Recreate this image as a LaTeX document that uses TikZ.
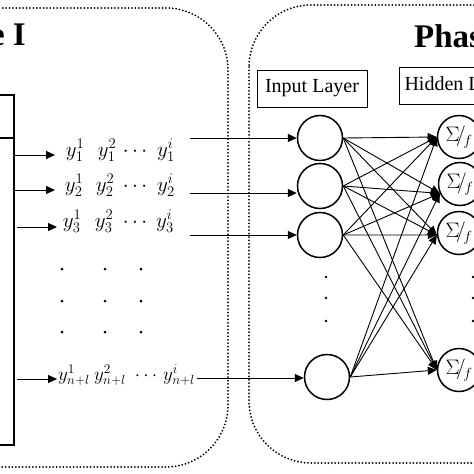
\documentclass[tikz,border=0pt]{standalone}
\usepackage{fontspec}
\usepackage{fix-cm}
\setmainfont{Liberation Serif}
\usetikzlibrary{arrows.meta}
\begin{document}
\begin{tikzpicture}[x=1pt,y=-1pt,
  dotbox/.style={line width=2pt, dash pattern=on 0pt off 3.4pt, line cap=round},
  neuron/.style={circle, draw, line width=1.5pt, minimum size=45pt, inner sep=0pt},
  hneuron/.style={circle, draw, line width=1.5pt, minimum size=43pt, inner sep=0pt, font=\fontsize{21}{24}\selectfont},
  arr/.style={line width=0.9pt, -{Triangle[length=9pt,width=8pt]}},
  lbl/.style={inner sep=0pt, anchor=base, font=\fontsize{21}{24}\selectfont},
  lblsmall/.style={inner sep=0pt, anchor=base, font=\fontsize{19}{22}\selectfont},
  layerbox/.style={draw, line width=1pt, minimum height=37pt, inner sep=5pt, font=\fontsize{20}{24}\selectfont},
  titletext/.style={inner sep=0pt, font=\fontsize{33}{38}\selectfont\bfseries}
]
\clip (0,0) rectangle (474,474);
\fill[white] (0,0) rectangle (474,474);

% phase boxes
\draw[dotbox, rounded corners=62pt] (-100,8) rectangle (228,467);
\draw[dotbox, rounded corners=62pt] (249,5) rectangle (600,463);

% titles
\node[titletext, anchor=base east] (t1) at (26,45) {Phase I};
\node[titletext, anchor=base west] (t2) at (414,47) {Phase II};

% source block
\node[draw, line width=1.5pt, minimum width=60pt, minimum height=350pt, inner sep=0pt] (src) at (-16,270) {};
\draw[line width=1.5pt] (src.west |- 0,138) -- (src.east |- 0,138);

% rows of outputs
\node[lbl] (r1a) at (75,156) {$y_1^1$};
\node[lbl] (r1b) at (107,156) {$y_1^2$};
\node[lbl] (r1c) at (135,156) {$\cdots$};
\node[lbl] (r1d) at (166,156) {$y_1^i$};
\node[lbl] (r2a) at (74,191) {$y_2^1$};
\node[lbl] (r2b) at (105,191) {$y_2^2$};
\node[lbl] (r2c) at (135,191) {$\cdots$};
\node[lbl] (r2d) at (166,191) {$y_2^i$};
\node[lbl] (r3a) at (72,227) {$y_3^1$};
\node[lbl] (r3b) at (104,227) {$y_3^2$};
\node[lbl] (r3c) at (135,227) {$\cdots$};
\node[lbl] (r3d) at (165,227) {$y_3^i$};
\node[lblsmall] (r4a) at (74,380) {$y_{n+l}^1$};
\node[lblsmall] (r4b) at (110,380) {$y_{n+l}^2$};
\node[lblsmall] (r4c) at (146,380) {$\cdots$};
\node[lblsmall] (r4d) at (179,380) {$y_{n+l}^i$};

\foreach \yy in {269,301,332} {
  \foreach \xx in {62,105,141} {
    \fill (\xx,\yy) circle (1.5pt);
  }
}

% arrows from source block
\coordinate (a1) at (55,155);
\coordinate (a2) at (55,190);
\coordinate (s3) at (17,227);
\coordinate (a3) at (57,227);
\coordinate (s4) at (17,379);
\coordinate (a4) at (57,379);
\draw[arr] (src.east |- a1) -- (a1);
\draw[arr] (src.east |- a2) -- (a2);
\draw[arr] (s3) -- (a3);
\draw[arr] (s4) -- (a4);

% layer labels
\node[layerbox, minimum width=110pt] (inl) at (312,88.5) {Input Layer};
\node[layerbox, anchor=west] (hidl) at (399,85.5) {Hidden Layer};

% input neurons
\node[neuron] (i1) at (320,138) {};
\node[neuron] (i2) at (320,186) {};
\node[neuron] (i3) at (320,235) {};
\node[neuron] (i4) at (327,377) {};
\foreach \yy in {277,298,321} \fill (326,\yy) circle (1.3pt);

% hidden neurons
\node[hneuron] (h1) at (459,137) {$\Sigma\!/_{\!f}$};
\node[hneuron] (h2) at (460,184) {$\Sigma\!/_{\!f}$};
\node[hneuron] (h3) at (459,233) {$\Sigma\!/_{\!f}$};
\node[hneuron] (h4) at (459,370) {$\Sigma\!/_{\!f}$};
\foreach \yy in {277,298,321} \fill (473,\yy) circle (1.3pt);

% inputs into input layer
\coordinate (b1) at (190,138);
\coordinate (b2) at (190,193);
\coordinate (b3) at (190,235);
\coordinate (b4) at (197,378);
\draw[arr] (b1) -- (b1 -| i1.west);
\draw[arr] (b2) -- (b2 -| i2.west);
\draw[arr] (b3) -- (b3 -| i3.west);
\draw[arr] (b4) -- (b4 -| i4.west);

% full connections
\foreach \i in {1,...,4} {
  \foreach \j/\a in {1/180,2/205,3/185,4/180} {
    \draw[arr] (i\i.east) -- (h\j.\a);
  }
}
\end{tikzpicture}
\end{document}
